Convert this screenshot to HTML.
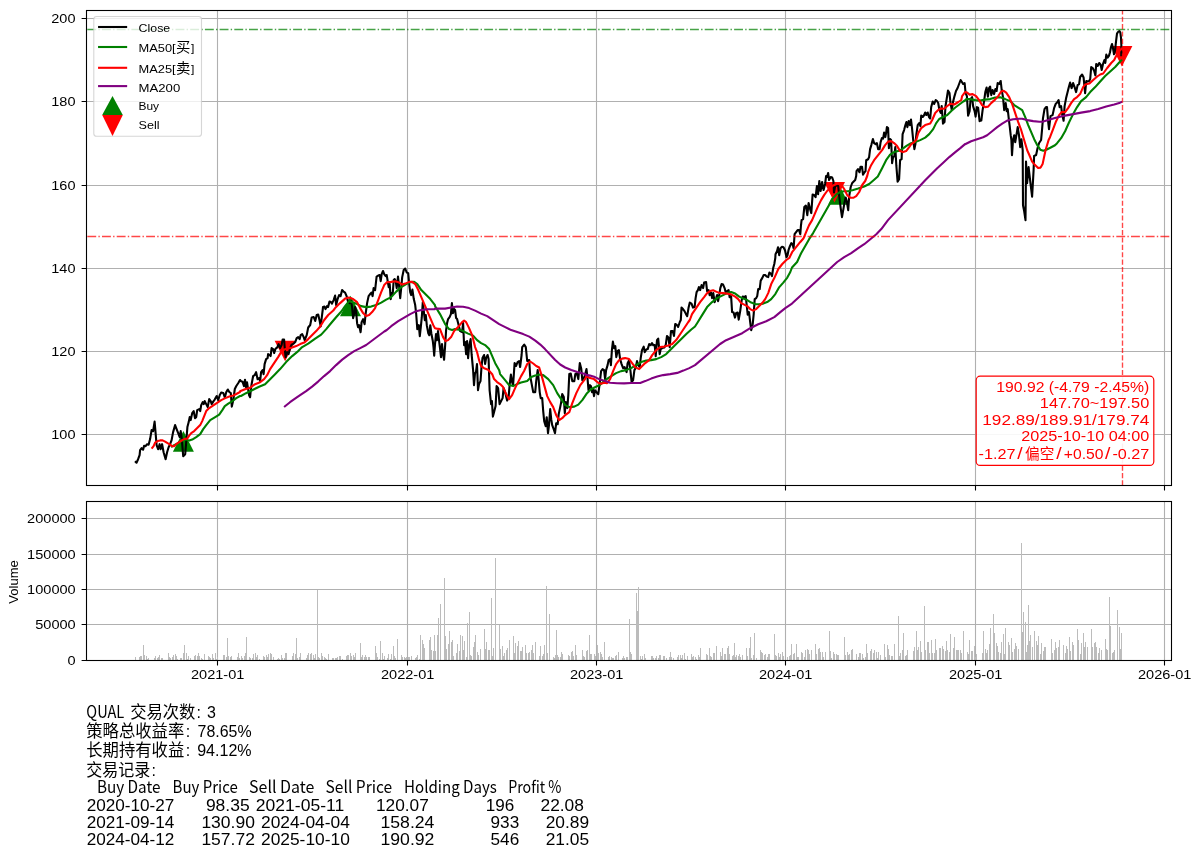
<!DOCTYPE html>
<html><head><meta charset="utf-8"><title>QUAL</title>
<style>html,body{margin:0;padding:0;background:#fff}svg{display:block}</style></head>
<body>
<svg width="1201" height="858" viewBox="0 0 1201 858" font-family='"Liberation Sans","Noto Sans CJK SC",sans-serif'>
<rect width="1201" height="858" fill="#fff"/>
<path d="M217.5 10.5 V485.5 M407.5 10.5 V485.5 M596.5 10.5 V485.5 M785.5 10.5 V485.5 M975.5 10.5 V485.5 M1164.5 10.5 V485.5 M86.5 434.5 H1171.5 M86.5 351.5 H1171.5 M86.5 268.5 H1171.5 M86.5 185.5 H1171.5 M86.5 101.5 H1171.5 M86.5 18.5 H1171.5" stroke="#b0b0b0" stroke-width="1.1" fill="none"/>
<g clip-path="url(#cm)">
<defs><clipPath id="cm"><rect x="86.5" y="10.5" width="1085.0" height="475.0"/></clipPath></defs>
<polygon points="183.4,431.1 172.9,451.7 193.9,451.7" fill="#008000"/>
<polygon points="350.5,295.7 340.0,316.3 361.0,316.3" fill="#008000"/>
<polygon points="838.7,184.1 828.2,204.7 849.2,204.7" fill="#008000"/>
<polygon points="285.1,361.3 274.6,340.7 295.6,340.7" fill="#ff0000"/>
<polygon points="834.5,202.5 824.0,181.9 845.0,181.9" fill="#ff0000"/>
<polygon points="1121.9,66.6 1111.4,46.0 1132.4,46.0" fill="#ff0000"/>
<path d="M135.0 461.2 L136.5 462.7 L138.1 459.2 L139.6 455.2 L140.1 450.2 L141.6 448.2 L143.1 449.7 L144.1 445.7 L145.6 446.2 L147.1 444.2 L148.6 444.7 L150.1 439.1 L151.6 430.1 L153.1 431.1 L154.6 421.6 L155.6 433.1 L156.6 445.2 L158.1 449.2 L159.6 444.2 L160.6 449.2 L162.1 444.2 L163.6 452.2 L165.6 459.2 L167.1 452.2 L168.6 447.2 L170.1 444.2 L171.6 440.1 L173.1 432.1 L175.1 425.1 L176.6 429.1 L178.2 433.1 L179.7 437.1 L180.7 431.1 L181.7 438.1 L183.2 456.2 L185.2 454.2 L186.2 442.2 L187.4 427.1 L188.7 422.1 L189.7 417.1 L190.7 420.1 L192.2 413.1 L193.7 411.1 L195.0 418.1 L196.2 417.1 L197.2 410.1 L199.2 409.1 L200.2 411.1 L201.2 405.1 L202.7 402.1 L203.7 404.1 L204.7 401.1 L206.2 404.1 L207.7 407.1 L209.2 399.1 L210.7 401.1 L211.7 404.1 L213.2 401.6 L214.7 399.6 L216.7 396.0 L218.2 400.1 L219.8 395.0 L221.2 392.5 L223.3 393.0 L224.8 397.5 L226.3 392.0 L227.8 389.5 L229.3 392.0 L230.8 393.0 L231.8 406.6 L233.3 400.1 L234.8 389.0 L236.3 386.0 L238.3 383.0 L240.0 380.0 L241.0 381.2 L242.5 381.7 L244.0 386.2 L245.0 379.7 L246.0 387.2 L247.0 382.2 L248.1 389.2 L249.1 395.2 L250.1 397.2 L250.8 390.2 L251.6 384.2 L253.1 376.2 L254.6 375.2 L256.1 372.2 L257.6 379.2 L259.1 378.2 L260.1 381.2 L261.1 372.2 L262.6 370.1 L263.6 374.2 L264.6 364.1 L266.1 359.1 L267.6 358.1 L268.1 354.1 L269.6 355.1 L270.6 356.1 L271.6 348.1 L273.1 349.1 L274.1 353.1 L275.6 348.6 L277.1 347.6 L278.6 344.1 L280.1 348.1 L281.6 345.1 L282.6 339.6 L284.1 339.6 L284.9 350.1 L285.6 357.1 L287.1 352.1 L288.6 354.1 L290.1 348.1 L291.6 344.6 L293.7 343.6 L295.2 342.1 L296.7 338.1 L298.2 337.1 L299.7 339.1 L300.7 335.1 L302.2 334.1 L303.7 337.1 L304.7 340.1 L306.7 335.1 L308.2 327.5 L310.2 325.0 L311.7 317.5 L313.7 317.0 L315.2 321.0 L316.7 315.0 L318.2 314.5 L319.7 321.0 L320.7 326.5 L321.7 318.0 L322.7 310.0 L323.0 307.1 L324.5 306.6 L325.5 309.1 L327.0 306.1 L328.0 307.1 L329.5 301.6 L331.0 302.1 L332.0 303.6 L333.6 300.1 L335.1 295.6 L336.2 305.1 L337.6 299.1 L339.1 295.1 L340.6 296.1 L342.1 290.1 L343.6 291.6 L345.1 292.6 L346.6 296.1 L348.1 302.1 L349.6 303.1 L351.1 301.1 L352.1 307.1 L353.1 318.2 L354.1 314.1 L355.1 307.1 L356.1 311.1 L357.1 323.2 L358.1 327.2 L359.1 325.2 L360.6 332.2 L361.6 322.2 L363.1 319.2 L364.6 324.2 L365.6 314.1 L367.1 303.1 L368.6 296.1 L370.1 294.1 L371.6 292.6 L372.6 296.1 L373.6 288.1 L375.1 290.1 L376.6 276.6 L378.2 275.6 L379.7 275.1 L380.7 281.1 L381.7 274.1 L383.0 271.0 L384.2 274.1 L385.7 276.1 L386.7 275.1 L387.7 281.1 L388.7 287.1 L389.7 284.1 L390.7 299.1 L391.7 293.1 L392.7 294.1 L393.7 280.1 L394.7 279.1 L395.7 281.1 L396.7 288.1 L398.0 276.6 L399.0 285.1 L400.2 298.1 L401.2 288.1 L402.2 277.1 L403.7 270.0 L405.2 268.5 L406.7 272.5 L408.2 273.1 L409.2 284.1 L410.2 292.1 L411.2 295.1 L412.4 289.6 L413.8 299.1 L415.2 305.1 L416.2 314.1 L417.3 329.2 L418.8 325.2 L419.8 336.2 L420.8 327.2 L421.8 317.2 L422.8 302.1 L423.8 311.1 L424.8 320.2 L425.8 315.1 L426.8 325.2 L428.3 333.2 L429.3 335.2 L430.3 325.2 L431.3 333.2 L432.8 341.0 L433.5 347.1 L434.2 355.7 L435.0 344.1 L436.0 334.1 L437.0 340.1 L438.0 331.1 L439.0 340.1 L440.0 348.1 L441.0 357.2 L442.0 344.1 L443.1 354.2 L444.1 359.7 L445.1 346.1 L446.1 330.1 L447.1 323.1 L448.1 319.1 L449.6 317.1 L450.9 314.1 L451.9 303.0 L452.9 313.1 L454.1 309.1 L455.1 310.1 L456.1 318.1 L457.1 319.1 L458.6 325.1 L460.1 331.1 L462.1 332.1 L463.1 323.1 L464.1 345.1 L465.1 342.1 L466.1 354.2 L467.1 341.1 L468.1 358.2 L469.1 346.1 L470.6 339.1 L471.6 354.2 L473.1 370.2 L474.0 385.1 L475.0 373.1 L476.0 372.0 L477.0 364.0 L478.0 390.1 L479.0 384.1 L480.5 381.1 L481.5 367.0 L482.5 358.0 L484.1 355.0 L485.1 364.0 L486.1 358.0 L487.6 355.0 L488.6 359.0 L489.6 390.1 L491.1 404.1 L491.9 401.1 L492.9 416.6 L494.1 412.1 L495.6 406.1 L496.6 386.1 L498.1 388.1 L499.6 404.1 L501.1 401.1 L502.6 398.1 L503.6 388.1 L505.1 392.1 L507.1 400.6 L508.6 397.1 L509.6 385.1 L510.9 374.6 L512.1 382.1 L513.1 385.1 L514.6 363.0 L516.1 366.0 L517.6 362.0 L519.1 361.0 L520.1 367.0 L521.6 355.0 L522.2 347.1 L524.2 344.6 L525.8 347.1 L527.2 361.0 L529.2 360.0 L530.2 376.1 L531.7 384.1 L533.2 392.1 L535.2 392.1 L536.2 381.1 L537.7 370.0 L538.7 380.1 L539.7 392.1 L540.7 398.1 L542.2 398.1 L543.2 411.1 L544.2 421.2 L545.7 426.2 L546.7 417.2 L548.0 433.2 L549.0 425.2 L550.2 409.1 L551.2 419.2 L552.2 425.2 L553.7 429.2 L555.0 433.2 L556.2 423.2 L557.7 424.2 L558.7 414.1 L560.2 407.1 L561.2 402.1 L562.2 394.1 L563.8 397.1 L564.8 413.1 L565.8 402.1 L567.3 408.1 L568.3 395.1 L569.3 374.1 L570.8 373.6 L572.3 381.1 L574.3 381.1 L575.3 374.1 L576.8 373.1 L578.3 379.1 L579.8 363.0 L581.3 369.0 L582.3 380.1 L583.8 378.1 L585.0 375.1 L586.5 369.1 L587.5 378.1 L588.5 390.2 L590.0 385.2 L591.0 386.2 L592.0 392.2 L593.0 389.2 L594.0 396.2 L595.0 390.2 L596.5 392.2 L598.3 394.2 L599.6 384.2 L601.1 371.1 L602.6 369.1 L604.1 370.1 L605.1 379.1 L606.1 370.1 L607.6 365.1 L608.6 360.1 L610.1 359.1 L610.9 365.1 L611.9 350.1 L612.9 341.6 L614.1 348.1 L615.3 346.1 L616.3 357.1 L617.6 351.1 L618.9 350.1 L620.1 359.1 L621.6 364.1 L623.1 368.1 L624.6 367.1 L626.6 372.1 L627.6 363.1 L629.1 360.1 L630.6 372.1 L631.6 382.2 L633.1 380.1 L634.4 370.1 L635.6 368.1 L637.0 361.1 L638.2 365.1 L639.7 367.1 L640.7 358.1 L642.0 350.1 L643.7 346.6 L644.7 352.1 L646.2 349.6 L647.7 349.1 L649.2 344.1 L650.7 345.1 L652.0 343.1 L653.2 345.1 L654.7 345.1 L655.7 356.1 L657.0 340.1 L658.2 338.6 L659.7 354.1 L660.7 349.1 L662.2 348.1 L664.2 347.6 L665.7 345.1 L667.0 336.0 L668.4 337.5 L669.7 347.1 L671.0 331.0 L672.7 331.0 L674.0 336.0 L675.2 324.0 L676.8 325.0 L678.1 327.0 L679.8 322.0 L680.8 320.0 L681.5 307.6 L683.0 309.1 L684.5 311.1 L686.0 314.1 L687.2 316.1 L688.5 308.1 L689.8 302.6 L691.5 303.6 L693.0 307.6 L694.6 307.1 L695.6 298.1 L696.6 292.1 L697.9 290.1 L698.9 287.1 L700.1 290.1 L701.6 285.1 L703.1 288.1 L704.1 282.6 L706.1 282.1 L707.1 291.1 L708.6 290.1 L709.6 295.1 L711.1 292.6 L712.1 298.1 L713.3 293.1 L714.6 302.1 L716.1 298.1 L717.1 295.1 L718.1 301.1 L719.1 296.1 L720.3 288.1 L721.6 284.1 L723.1 284.6 L724.6 288.1 L725.6 292.1 L727.1 291.1 L728.6 290.1 L729.6 297.1 L731.1 296.1 L732.1 312.1 L733.6 312.6 L735.0 317.6 L736.2 313.1 L737.7 312.6 L738.7 319.6 L740.2 311.1 L741.7 300.1 L742.7 296.6 L744.2 297.1 L745.7 296.1 L746.7 305.1 L747.7 314.6 L749.0 312.1 L750.2 322.2 L751.2 330.2 L752.7 324.2 L753.7 314.1 L754.7 299.1 L756.2 298.1 L757.2 296.1 L758.2 289.1 L759.7 289.1 L760.7 280.6 L762.2 278.1 L763.7 275.0 L765.2 275.0 L766.7 276.6 L768.2 277.1 L769.4 272.5 L770.8 273.5 L772.0 276.1 L773.2 268.0 L774.3 264.0 L775.3 258.0 L775.5 254.2 L777.0 251.2 L778.0 247.2 L779.2 255.2 L780.5 248.2 L782.0 246.7 L783.5 247.2 L785.0 250.2 L786.5 257.2 L787.5 255.2 L788.5 250.2 L789.9 246.2 L791.3 243.2 L792.6 244.2 L793.6 248.2 L794.6 234.2 L796.1 232.1 L797.6 230.1 L799.1 230.1 L800.3 234.2 L800.9 226.1 L801.6 220.1 L803.1 219.1 L804.3 207.1 L805.9 205.6 L807.3 215.1 L808.6 203.1 L810.1 209.1 L811.3 213.1 L812.6 194.6 L814.1 195.1 L815.6 197.1 L816.9 186.0 L818.1 194.1 L819.3 181.0 L820.6 191.0 L822.1 182.0 L823.6 190.0 L825.1 184.0 L826.1 176.0 L827.1 177.0 L828.1 173.0 L829.1 180.0 L830.7 177.0 L832.2 177.5 L833.4 181.0 L834.0 192.5 L835.2 186.0 L836.7 185.5 L838.2 186.0 L839.2 196.1 L840.7 208.1 L842.0 217.1 L843.2 210.1 L844.4 203.1 L845.7 197.6 L846.7 201.1 L848.2 210.1 L849.2 196.1 L850.7 187.0 L852.2 183.0 L853.7 181.5 L855.2 180.0 L856.2 176.0 L856.5 171.2 L858.0 169.2 L859.5 172.2 L860.5 166.7 L862.0 166.7 L863.0 174.7 L864.5 172.2 L865.5 171.2 L866.2 160.2 L868.1 159.2 L869.1 157.1 L870.1 149.1 L871.3 145.1 L872.9 139.1 L874.1 143.1 L875.6 144.1 L876.9 143.1 L878.1 149.1 L879.6 149.1 L880.6 142.1 L881.9 138.1 L883.1 138.6 L884.1 132.6 L885.3 137.1 L886.1 133.1 L886.9 127.1 L888.1 128.1 L888.9 148.1 L890.1 139.1 L891.1 140.1 L892.1 163.2 L893.1 157.1 L894.3 156.1 L895.3 147.1 L896.3 165.2 L897.6 181.7 L899.1 179.2 L900.1 160.2 L901.6 159.2 L902.6 134.1 L904.1 130.1 L905.4 125.1 L906.4 122.1 L907.4 127.1 L908.7 121.0 L910.0 125.1 L911.0 119.5 L912.0 128.1 L913.2 140.1 L914.4 149.1 L915.4 144.1 L916.4 134.1 L917.7 125.1 L919.2 123.1 L920.4 126.1 L921.2 115.5 L922.7 117.0 L924.2 115.0 L925.2 112.5 L926.4 115.0 L927.7 112.5 L929.0 117.0 L930.2 118.5 L931.2 107.0 L932.7 101.5 L934.2 104.0 L935.7 100.0 L937.0 101.0 L938.2 103.0 L939.2 109.0 L940.7 113.0 L941.7 106.0 L943.0 123.6 L944.5 122.1 L945.5 106.0 L946.5 100.0 L948.0 90.5 L949.5 93.1 L950.5 103.1 L951.8 110.1 L953.0 102.1 L954.5 96.1 L956.0 91.0 L957.6 88.0 L959.1 84.0 L960.6 80.0 L961.9 82.0 L963.1 84.0 L964.6 83.0 L965.6 93.1 L966.9 96.1 L968.1 115.6 L969.6 111.1 L970.6 99.1 L972.1 97.1 L973.1 106.1 L974.6 111.1 L975.6 116.6 L976.9 107.1 L978.1 107.6 L979.6 121.1 L981.3 120.6 L982.6 110.1 L984.1 101.1 L985.3 92.1 L986.6 87.5 L987.9 96.6 L989.1 88.0 L990.1 86.5 L991.3 95.1 L992.6 90.0 L994.1 94.1 L995.4 89.0 L996.6 91.0 L997.7 83.0 L999.2 84.0 L1000.7 81.0 L1001.7 90.0 L1003.0 97.1 L1004.2 110.1 L1005.7 103.1 L1006.7 111.1 L1007.7 109.1 L1008.7 118.1 L1009.7 126.1 L1010.7 135.2 L1011.4 140.2 L1012.0 155.2 L1013.0 140.2 L1014.2 135.2 L1015.2 142.2 L1016.4 135.2 L1017.7 127.1 L1019.0 135.2 L1020.2 147.2 L1021.4 139.2 L1022.7 150.2 L1023.0 205.2 L1024.0 210.2 L1025.5 220.2 L1025.8 190.1 L1026.0 161.6 L1027.1 183.1 L1028.6 167.1 L1030.1 180.1 L1032.1 196.6 L1033.6 170.1 L1034.1 156.0 L1036.1 155.0 L1037.6 148.0 L1039.1 143.0 L1041.1 140.0 L1042.0 130.2 L1043.0 118.2 L1044.5 109.1 L1046.0 107.1 L1047.0 107.1 L1048.0 120.2 L1049.0 129.2 L1050.5 116.1 L1052.6 115.1 L1054.1 108.1 L1055.6 104.1 L1057.1 102.6 L1058.6 100.1 L1059.6 107.1 L1061.1 106.1 L1062.1 114.1 L1063.6 120.7 L1064.6 106.1 L1066.1 98.1 L1067.1 94.1 L1068.6 88.1 L1070.1 82.6 L1071.6 88.1 L1073.1 83.1 L1074.6 87.1 L1076.1 92.1 L1077.6 85.1 L1079.1 84.1 L1080.1 77.0 L1082.1 74.5 L1083.6 77.5 L1085.1 93.1 L1086.3 81.0 L1087.6 81.5 L1089.2 81.0 L1090.2 79.0 L1091.2 67.0 L1092.7 68.0 L1094.2 71.0 L1095.4 75.5 L1096.2 64.0 L1097.7 66.0 L1099.2 63.0 L1100.7 65.0 L1101.7 70.0 L1103.0 64.0 L1104.4 60.0 L1105.3 63.0 L1106.3 54.6 L1107.6 57.6 L1109.0 55.6 L1110.0 52.3 L1111.0 47.0 L1112.0 44.0 L1113.0 48.3 L1114.0 54.3 L1115.0 51.0 L1116.0 41.6 L1117.0 33.6 L1118.0 32.0 L1119.3 31.0 L1120.3 32.3 L1121.0 37.6 L1121.4 46.3 L1121.3 56.3" stroke="#000" stroke-width="2.1" fill="none" stroke-linejoin="round"/>
<path d="M171.1 447.2 L174.1 445.2 L178.2 443.2 L182.2 440.6 L186.2 439.4 L189.2 440.6 L192.2 439.6 L196.2 437.1 L200.2 434.1 L203.2 429.1 L206.2 425.1 L210.2 420.1 L215.2 417.1 L219.2 414.6 L222.3 410.1 L224.8 406.1 L228.3 403.6 L232.3 401.1 L236.3 398.1 L240.0 396.0 L241.0 396.0 L246.0 393.2 L252.1 390.2 L259.1 386.7 L265.1 384.2 L269.1 380.2 L274.1 375.2 L280.1 369.1 L286.1 362.1 L292.2 356.1 L298.2 351.1 L302.2 347.1 L308.2 343.6 L315.2 338.6 L321.2 334.6 L326.2 329.1 L331.2 323.0 L336.3 317.0 L341.3 311.5 L345.1 306.1 L349.1 301.1 L353.1 302.6 L357.1 304.1 L361.1 306.1 L366.1 307.1 L371.1 306.6 L376.1 305.1 L381.2 302.6 L386.2 299.6 L391.2 297.1 L396.2 291.6 L401.2 287.1 L406.2 284.1 L410.2 282.1 L414.2 281.9 L417.3 284.1 L421.3 290.1 L425.3 294.1 L430.3 299.1 L435.0 305.1 L435.0 306.0 L440.0 314.1 L445.1 324.1 L449.1 329.1 L452.1 330.1 L455.1 329.1 L459.1 329.6 L463.1 331.1 L468.1 333.6 L473.1 335.6 L477.1 340.1 L481.1 343.1 L485.1 345.1 L489.2 349.1 L492.2 356.2 L495.2 363.2 L499.2 370.2 L500.1 374.1 L505.1 380.1 L509.1 385.1 L513.1 386.1 L517.1 384.1 L521.1 382.6 L527.2 381.1 L531.2 377.1 L535.2 375.6 L539.2 374.6 L543.2 375.1 L548.2 379.1 L553.2 385.1 L557.2 393.1 L561.2 399.1 L565.2 405.1 L569.3 407.1 L574.3 406.6 L578.3 404.6 L582.3 400.1 L585.0 396.1 L587.0 393.2 L591.0 389.2 L595.0 387.2 L600.1 384.7 L604.1 381.1 L608.1 378.1 L612.1 375.6 L616.1 373.1 L621.1 371.1 L626.1 370.1 L631.1 368.1 L636.1 365.1 L641.2 362.1 L646.2 360.6 L651.2 360.1 L656.2 359.1 L661.2 357.1 L666.2 354.1 L671.2 349.1 L676.2 344.1 L681.3 339.1 L686.3 334.0 L691.3 329.5 L695.0 326.5 L697.1 323.2 L702.1 315.1 L707.1 307.1 L712.1 302.1 L717.1 298.1 L722.1 295.6 L727.1 293.1 L731.1 292.1 L735.2 293.6 L739.2 296.6 L743.2 298.6 L747.2 300.1 L751.2 302.6 L755.2 304.1 L759.2 304.3 L763.2 303.6 L767.2 302.1 L771.2 299.1 L775.3 294.1 L779.3 287.1 L783.3 282.6 L787.3 277.6 L790.3 272.0 L792.0 267.5 L797.1 262.0 L801.1 253.2 L805.1 246.2 L809.1 239.2 L813.1 233.1 L817.1 226.1 L821.1 219.1 L825.1 212.1 L829.1 205.1 L832.2 199.1 L836.2 194.6 L840.2 191.8 L844.2 191.2 L848.2 191.2 L853.2 190.0 L858.2 188.5 L864.2 186.5 L869.2 184.0 L873.3 180.5 L877.8 176.5 L882.1 168.2 L886.1 160.2 L890.1 154.6 L894.1 152.1 L898.1 151.1 L902.1 149.1 L906.1 146.1 L910.2 143.6 L915.2 142.1 L920.2 140.1 L925.2 137.6 L929.2 134.1 L933.2 129.1 L936.2 123.1 L939.2 119.0 L943.2 117.0 L947.3 115.0 L951.3 111.0 L955.3 107.5 L959.3 104.5 L963.3 101.5 L965.0 100.5 L966.1 99.1 L970.1 99.1 L975.1 100.1 L980.1 100.6 L985.1 99.6 L990.1 99.1 L995.1 97.6 L1000.2 97.3 L1005.2 99.1 L1010.2 101.1 L1014.2 105.1 L1018.2 107.6 L1022.2 110.1 L1025.2 117.1 L1028.2 125.1 L1031.2 132.2 L1034.2 139.2 L1037.3 145.2 L1040.3 149.7 L1043.3 150.7 L1046.3 149.7 L1050.3 147.7 L1055.0 145.2 L1057.1 143.2 L1061.1 138.2 L1065.1 131.2 L1069.1 122.2 L1073.1 114.1 L1077.1 107.1 L1081.1 101.1 L1086.1 97.1 L1090.2 92.1 L1095.2 87.1 L1100.2 81.5 L1105.2 76.0 L1110.2 71.5 L1115.2 67.0 L1119.2 62.5 L1121.7 60.0 L1122.0 59.6" stroke="#008000" stroke-width="2.1" fill="none" stroke-linejoin="round"/>
<path d="M151.6 448.7 L153.6 446.2 L155.1 442.7 L157.6 441.1 L160.1 440.4 L162.6 440.4 L165.1 441.6 L167.6 443.2 L170.1 444.7 L172.1 446.2 L174.1 446.2 L176.1 444.2 L179.2 442.2 L182.2 440.1 L184.7 438.9 L187.2 438.6 L189.2 435.6 L191.2 433.1 L194.2 431.1 L197.2 428.1 L200.2 425.1 L202.2 421.1 L204.2 416.1 L206.2 411.1 L209.2 408.1 L212.2 406.1 L215.2 404.1 L218.2 402.1 L221.2 400.1 L225.3 398.1 L229.3 396.5 L233.3 395.5 L236.3 394.0 L240.0 392.0 L240.0 391.2 L245.0 389.2 L250.1 387.7 L255.1 384.2 L260.1 382.2 L264.1 379.2 L267.1 375.2 L270.1 369.1 L274.1 363.1 L278.1 357.1 L281.1 352.1 L284.1 349.6 L288.1 348.6 L292.2 347.6 L296.2 346.1 L300.2 344.1 L304.2 342.6 L308.2 339.1 L312.2 335.1 L316.2 331.1 L320.2 326.5 L324.2 320.0 L328.2 315.0 L333.3 310.5 L335.1 308.1 L340.1 303.1 L345.1 298.6 L349.1 297.6 L353.1 299.1 L357.1 302.1 L360.1 308.1 L363.1 313.1 L366.1 316.1 L369.1 315.1 L372.1 312.1 L375.1 308.1 L378.2 300.1 L381.2 292.1 L384.2 285.1 L387.2 282.1 L391.2 281.9 L395.2 281.3 L399.2 282.6 L402.2 284.6 L405.2 283.6 L409.2 281.9 L412.2 281.9 L415.2 284.1 L418.3 290.1 L421.3 297.1 L424.3 304.1 L427.3 311.1 L430.3 318.2 L433.3 325.2 L435.0 328.2 L437.0 328.6 L440.0 329.1 L443.1 337.1 L445.6 341.1 L448.1 340.1 L451.1 337.1 L454.1 331.1 L458.1 327.1 L462.1 322.1 L464.1 320.6 L466.1 322.1 L469.1 328.1 L472.1 335.1 L475.1 347.1 L477.1 352.2 L479.1 360.2 L481.1 366.2 L484.1 368.2 L488.2 369.7 L492.2 374.2 L494.1 379.1 L497.1 382.1 L500.1 384.1 L503.1 387.1 L506.1 394.1 L509.1 399.1 L512.1 395.1 L515.1 388.1 L518.1 382.1 L521.1 376.1 L524.1 371.0 L527.2 364.0 L530.2 361.5 L533.2 363.5 L536.2 366.0 L539.2 367.5 L541.2 374.1 L544.2 385.1 L547.2 396.1 L550.2 402.1 L553.2 407.1 L556.2 415.1 L559.2 420.2 L562.2 418.2 L565.2 415.1 L569.3 412.1 L572.3 403.1 L576.3 393.1 L580.3 385.1 L585.0 379.1 L586.5 376.1 L590.0 378.1 L594.0 379.1 L598.1 382.7 L601.1 383.7 L604.1 382.7 L607.1 383.2 L610.1 379.1 L613.1 371.1 L616.1 364.1 L619.1 360.1 L622.1 358.6 L625.1 358.1 L629.1 359.1 L632.1 363.1 L635.1 367.1 L639.2 369.1 L642.2 366.1 L645.2 363.1 L649.2 360.1 L652.2 355.1 L656.2 350.1 L660.2 347.1 L664.2 346.6 L668.2 345.6 L672.2 344.1 L676.2 340.1 L680.3 334.0 L684.3 328.0 L688.3 322.0 L689.8 320.0 L692.0 314.1 L696.1 308.1 L700.1 302.1 L704.1 297.1 L707.1 293.1 L710.1 291.1 L713.1 290.3 L716.1 291.6 L719.1 292.9 L723.1 293.1 L727.1 293.6 L731.1 294.3 L735.2 296.6 L738.2 299.1 L741.2 303.1 L744.2 304.6 L747.2 306.1 L750.2 309.1 L753.2 310.6 L756.2 309.1 L759.2 306.1 L762.2 303.1 L765.2 299.1 L768.2 293.1 L771.2 284.1 L774.3 278.1 L778.3 269.0 L782.3 264.0 L786.3 260.0 L789.3 258.0 L792.1 252.2 L796.1 247.2 L800.1 242.2 L803.6 238.2 L806.1 232.1 L809.1 225.1 L812.1 220.1 L815.1 213.1 L818.1 206.1 L821.1 200.1 L824.1 195.1 L827.1 191.0 L830.2 188.0 L833.2 185.5 L838.2 183.2 L841.2 184.5 L844.2 189.0 L847.2 195.1 L850.2 197.6 L853.2 197.8 L856.2 196.1 L859.2 192.0 L862.2 185.0 L865.2 181.0 L867.2 176.0 L868.1 172.2 L871.1 165.2 L874.1 160.2 L878.1 155.1 L882.1 150.1 L885.1 145.1 L888.1 141.6 L891.1 141.1 L894.1 143.1 L897.1 146.1 L900.1 151.1 L903.1 152.1 L906.1 151.1 L909.2 147.1 L911.2 144.1 L914.2 142.1 L916.2 140.1 L918.2 133.1 L921.2 128.1 L925.2 125.1 L930.2 123.6 L932.2 120.0 L935.2 113.0 L938.2 110.0 L941.2 108.5 L944.2 108.8 L947.3 106.0 L950.3 103.8 L954.3 104.5 L958.3 102.0 L961.3 100.0 L962.1 96.1 L965.1 92.1 L967.1 92.6 L969.6 94.6 L972.6 94.1 L976.1 96.1 L979.1 100.1 L982.1 105.1 L985.1 107.1 L988.1 106.6 L991.1 103.1 L995.1 99.6 L998.2 96.1 L1001.2 91.5 L1003.7 90.8 L1006.2 92.6 L1009.2 97.1 L1012.2 104.1 L1015.2 113.1 L1018.2 122.1 L1021.2 130.2 L1024.2 140.2 L1027.2 150.2 L1029.2 154.7 L1032.1 161.6 L1035.1 165.1 L1038.1 167.9 L1040.6 167.6 L1042.6 164.1 L1044.1 157.0 L1045.6 150.0 L1047.1 145.0 L1048.6 140.0 L1050.0 137.2 L1053.1 129.2 L1056.1 121.2 L1059.1 115.1 L1061.6 112.1 L1065.1 112.1 L1068.1 108.1 L1071.1 103.1 L1074.1 99.1 L1077.1 97.1 L1080.1 94.1 L1083.1 87.1 L1085.1 84.6 L1089.2 83.6 L1093.2 80.0 L1097.2 76.5 L1100.2 74.5 L1103.2 73.5 L1107.2 68.0 L1111.2 63.0 L1114.2 60.0 L1116.0 56.3 L1119.3 51.0 L1122.3 48.1" stroke="#ff0000" stroke-width="2.1" fill="none" stroke-linejoin="round"/>
<path d="M284.1 407.0 L290.0 402.2 L295.0 398.7 L300.1 395.2 L306.1 391.1 L312.1 386.6 L318.1 381.6 L324.1 376.1 L330.1 371.1 L336.1 365.1 L342.2 359.6 L348.2 355.1 L354.2 351.1 L360.2 348.1 L366.2 345.0 L372.2 340.5 L378.2 336.0 L384.3 331.5 L386.8 330.0 L391.2 326.2 L398.2 321.2 L404.2 317.7 L410.2 314.1 L415.2 311.6 L421.3 310.1 L427.3 309.3 L435.0 309.1 L435.0 308.6 L445.1 308.6 L451.1 307.5 L457.1 306.5 L463.1 306.7 L469.1 308.1 L475.1 310.6 L481.1 313.6 L487.2 316.1 L493.2 320.1 L499.2 324.1 L505.2 327.1 L511.2 330.1 L517.2 332.1 L523.2 334.1 L529.3 336.6 L535.3 340.6 L540.3 344.6 L545.0 349.1 L555.2 360.0 L560.2 364.5 L565.2 367.5 L571.3 370.0 L577.3 372.0 L585.0 374.1 L585.0 374.6 L590.0 375.6 L595.0 377.1 L600.1 379.6 L605.1 381.1 L610.1 382.7 L617.1 383.2 L624.1 383.4 L631.1 383.0 L640.2 383.0 L645.2 381.1 L651.2 378.6 L657.2 376.6 L663.2 375.1 L670.2 374.1 L677.3 372.9 L683.3 370.6 L689.3 368.1 L695.0 365.1 L720.1 344.0 L726.1 340.2 L734.2 336.7 L742.2 333.2 L750.2 328.2 L758.2 324.2 L766.2 321.2 L774.3 317.1 L780.3 312.1 L785.3 308.1 L792.0 303.6 L837.2 262.0 L844.2 257.2 L851.2 253.2 L858.2 248.2 L864.2 244.2 L870.3 239.2 L876.3 234.2 L881.3 229.1 L888.0 220.1 L925.2 180.2 L931.2 174.2 L937.2 168.2 L943.2 162.7 L949.3 157.1 L955.3 152.1 L960.3 148.1 L965.0 144.1 L965.1 144.2 L971.1 141.2 L977.1 139.2 L983.1 137.2 L987.1 135.2 L992.1 131.2 L997.2 127.1 L1002.2 123.6 L1007.2 120.6 L1013.2 119.3 L1019.2 118.8 L1022.2 118.8 L1027.2 120.1 L1033.2 121.1 L1039.3 121.8 L1043.3 121.6 L1048.3 120.1 L1055.0 118.1 L1065.1 115.6 L1073.1 114.1 L1081.1 112.6 L1090.2 111.1 L1098.2 109.1 L1106.2 106.6 L1114.2 104.6 L1119.2 103.1 L1122.2 101.6" stroke="#800080" stroke-width="2.1" fill="none" stroke-linejoin="round"/>
<path d="M87.3 29.5 H1171.5" stroke="#008000" stroke-opacity="0.72" stroke-width="1.39" stroke-dasharray="8.9 2.2 1.4 2.2" fill="none"/>
<path d="M87.3 236.5 H1171.5" stroke="#ff0000" stroke-opacity="0.72" stroke-width="1.39" stroke-dasharray="8.9 2.2 1.4 2.2" fill="none"/>
<path d="M1122.5 485.5 V10.5" stroke="#ff0000" stroke-opacity="0.72" stroke-width="1.39" stroke-dasharray="5.14 2.22" fill="none"/>
</g>
<rect x="86.5" y="10.5" width="1085.0" height="475.0" fill="none" stroke="#000" stroke-width="1.1"/>
<path d="M217.5 485.5 v4.9 M407.5 485.5 v4.9 M596.5 485.5 v4.9 M785.5 485.5 v4.9 M975.5 485.5 v4.9 M1164.5 485.5 v4.9 M86.5 434.5 h-4.9 M86.5 351.5 h-4.9 M86.5 268.5 h-4.9 M86.5 185.5 h-4.9 M86.5 101.5 h-4.9 M86.5 18.5 h-4.9" stroke="#000" stroke-width="1.1" fill="none"/>
<text x="75.5" y="439.0" font-size="12.4" text-anchor="end" fill="#000" textLength="24.2" lengthAdjust="spacingAndGlyphs">100</text>
<text x="75.5" y="356.0" font-size="12.4" text-anchor="end" fill="#000" textLength="24.2" lengthAdjust="spacingAndGlyphs">120</text>
<text x="75.5" y="273.0" font-size="12.4" text-anchor="end" fill="#000" textLength="24.2" lengthAdjust="spacingAndGlyphs">140</text>
<text x="75.5" y="190.0" font-size="12.4" text-anchor="end" fill="#000" textLength="24.2" lengthAdjust="spacingAndGlyphs">160</text>
<text x="75.5" y="106.0" font-size="12.4" text-anchor="end" fill="#000" textLength="24.2" lengthAdjust="spacingAndGlyphs">180</text>
<text x="75.5" y="23.0" font-size="12.4" text-anchor="end" fill="#000" textLength="24.2" lengthAdjust="spacingAndGlyphs">200</text>
<rect x="93.8" y="16.5" width="107.7" height="119.8" rx="2.8" fill="#fff" fill-opacity="0.8" stroke="#ccc" stroke-opacity="0.8" stroke-width="1.1"/>
<path d="M99.1 27.0 H126.1" stroke="#000" stroke-width="2.1" stroke-linecap="square"/>
<path d="M99.1 47.0 H126.1" stroke="#008000" stroke-width="2.1" stroke-linecap="square"/>
<path d="M99.1 67.8 H126.1" stroke="#ff0000" stroke-width="2.1" stroke-linecap="square"/>
<path d="M99.1 86.1 H126.1" stroke="#800080" stroke-width="2.1" stroke-linecap="square"/>
<polygon points="112.5,96.0 102.2,115.1 122.8,115.1" fill="#008000"/>
<polygon points="112.5,136.0 102.2,115.1 122.8,115.1" fill="#ff0000"/>
<text x="138.6" y="31.6" font-size="11.6" text-anchor="start" fill="#000" textLength="31.6" lengthAdjust="spacingAndGlyphs">Close</text>
<text x="138.6" y="52.1" font-size="11.6" text-anchor="start" fill="#000" textLength="37.1" lengthAdjust="spacingAndGlyphs">MA50[</text>
<text x="176.0" y="52.3" font-size="14.2" text-anchor="start" fill="#000" textLength="14.4" lengthAdjust="spacingAndGlyphs">买</text>
<text x="190.9" y="52.1" font-size="11.6" text-anchor="start" fill="#000" textLength="3.4" lengthAdjust="spacingAndGlyphs">]</text>
<text x="138.6" y="72.7" font-size="11.6" text-anchor="start" fill="#000" textLength="37.1" lengthAdjust="spacingAndGlyphs">MA25[</text>
<text x="176.0" y="72.9" font-size="14.2" text-anchor="start" fill="#000" textLength="14.4" lengthAdjust="spacingAndGlyphs">卖</text>
<text x="190.9" y="72.7" font-size="11.6" text-anchor="start" fill="#000" textLength="3.4" lengthAdjust="spacingAndGlyphs">]</text>
<text x="138.6" y="91.7" font-size="11.6" text-anchor="start" fill="#000" textLength="41.6" lengthAdjust="spacingAndGlyphs">MA200</text>
<text x="138.5" y="109.7" font-size="11.6" text-anchor="start" fill="#000" textLength="20.6" lengthAdjust="spacingAndGlyphs">Buy</text>
<text x="138.5" y="129.0" font-size="11.6" text-anchor="start" fill="#000" textLength="21.0" lengthAdjust="spacingAndGlyphs">Sell</text>
<rect x="976.2" y="376.2" width="177.6" height="89.2" rx="4" fill="#fff" fill-opacity="0.9" stroke="#ff0000" stroke-width="1.2"/>
<text x="1149.3" y="391.7" font-size="15" text-anchor="end" fill="#ff0000" textLength="153.0" lengthAdjust="spacingAndGlyphs">190.92 (-4.79 -2.45%)</text>
<text x="1149.3" y="408.4" font-size="15" text-anchor="end" fill="#ff0000" textLength="109.5" lengthAdjust="spacingAndGlyphs">147.70~197.50</text>
<text x="1149.3" y="424.9" font-size="15" text-anchor="end" fill="#ff0000" textLength="167.0" lengthAdjust="spacingAndGlyphs">192.89/189.91/179.74</text>
<text x="1149.3" y="441.1" font-size="15" text-anchor="end" fill="#ff0000" textLength="128.0" lengthAdjust="spacingAndGlyphs">2025-10-10 04:00</text>
<text x="978.6" y="458.6" font-size="15" text-anchor="start" fill="#ff0000" textLength="37.0" lengthAdjust="spacingAndGlyphs">-1.27</text>
<text x="1063.8" y="458.6" font-size="15" text-anchor="start" fill="#ff0000" textLength="39.7" lengthAdjust="spacingAndGlyphs">+0.50</text>
<text x="1112.4" y="458.6" font-size="15" text-anchor="start" fill="#ff0000" textLength="36.9" lengthAdjust="spacingAndGlyphs">-0.27</text>
<text x="1019.9" y="458.6" font-size="16.5" text-anchor="middle" fill="#ff0000" textLength="5.4" lengthAdjust="spacingAndGlyphs">/</text>
<text x="1058.9" y="458.6" font-size="16.5" text-anchor="middle" fill="#ff0000" textLength="5.4" lengthAdjust="spacingAndGlyphs">/</text>
<text x="1107.8" y="458.6" font-size="16.5" text-anchor="middle" fill="#ff0000" textLength="5.4" lengthAdjust="spacingAndGlyphs">/</text>
<text x="1025.0" y="458.9" font-size="14.6" text-anchor="start" fill="#ff0000" textLength="29.3" lengthAdjust="spacingAndGlyphs">偏空</text>
<path d="M217.5 501.5 V660.5 M407.5 501.5 V660.5 M596.5 501.5 V660.5 M785.5 501.5 V660.5 M975.5 501.5 V660.5 M1164.5 501.5 V660.5 M86.5 660.5 H1171.5 M86.5 624.5 H1171.5 M86.5 589.5 H1171.5 M86.5 554.5 H1171.5 M86.5 518.5 H1171.5" stroke="#b0b0b0" stroke-width="1.1" fill="none"/>
<path d="M135 660v-3h1v3z M139 660v-3h1v3z M140 660v-4h1v4z M141 660v-4h1v4z M143 660v-15h1v15z M144 660v-5h1v5z M146 660v-4h1v4z M147 660v-1h1v1z M148 660v-2h1v2z M154 660v-2h1v2z M155 660v-4h1v4z M157 660v-2h1v2z M158 660v-3h1v3z M159 660v-5h1v5z M161 660v-2h1v2z M162 660v-2h1v2z M168 660v-7h1v7z M169 660v-3h1v3z M170 660v-2h1v2z M172 660v-3h1v3z M173 660v-5h1v5z M175 660v-6h1v6z M176 660v-4h1v4z M177 660v-1h1v1z M180 660v-2h1v2z M181 660v-2h1v2z M183 660v-7h1v7z M184 660v-15h1v15z M186 660v-7h1v7z M187 660v-1h1v1z M188 660v-4h1v4z M190 660v-2h1v2z M194 660v-4h1v4z M195 660v-5h1v5z M197 660v-4h1v4z M198 660v-7h1v7z M199 660v-4h1v4z M201 660v-2h1v2z M202 660v-1h1v1z M204 660v-6h1v6z M208 660v-4h1v4z M209 660v-3h1v3z M210 660v-2h1v2z M212 660v-6h1v6z M213 660v-2h1v2z M215 660v-7h1v7z M216 660v-1h1v1z M217 660v-3h1v3z M223 660v-5h1v5z M224 660v-5h1v5z M226 660v-3h1v3z M227 660v-22h1v22z M228 660v-4h1v4z M230 660v-3h1v3z M231 660v-4h1v4z M237 660v-3h1v3z M238 660v-7h1v7z M239 660v-2h1v2z M241 660v-4h1v4z M242 660v-2h1v2z M244 660v-4h1v4z M245 660v-7h1v7z M246 660v-23h1v23z M249 660v-3h1v3z M250 660v-2h1v2z M252 660v-2h1v2z M253 660v-6h1v6z M255 660v-7h1v7z M256 660v-3h1v3z M257 660v-5h1v5z M259 660v-1h1v1z M263 660v-4h1v4z M264 660v-3h1v3z M266 660v-5h1v5z M267 660v-3h1v3z M268 660v-6h1v6z M270 660v-7h1v7z M271 660v-6h1v6z M273 660v-3h1v3z M277 660v-1h1v1z M278 660v-2h1v2z M279 660v-1h1v1z M281 660v-5h1v5z M282 660v-2h1v2z M284 660v-2h1v2z M285 660v-7h1v7z M286 660v-7h1v7z M292 660v-4h1v4z M293 660v-7h1v7z M295 660v-6h1v6z M296 660v-22h1v22z M297 660v-2h1v2z M299 660v-3h1v3z M300 660v-7h1v7z M306 660v-2h1v2z M307 660v-5h1v5z M308 660v-7h1v7z M310 660v-6h1v6z M311 660v-7h1v7z M313 660v-5h1v5z M314 660v-2h1v2z M315 660v-6h1v6z M317 660v-70h1v70z M318 660v-3h1v3z M319 660v-2h1v2z M321 660v-7h1v7z M322 660v-4h1v4z M324 660v-3h1v3z M325 660v-2h1v2z M326 660v-1h1v1z M328 660v-6h1v6z M332 660v-2h1v2z M333 660v-2h1v2z M335 660v-2h1v2z M336 660v-2h1v2z M337 660v-3h1v3z M339 660v-4h1v4z M340 660v-4h1v4z M342 660v-1h1v1z M346 660v-4h1v4z M347 660v-5h1v5z M348 660v-5h1v5z M350 660v-7h1v7z M351 660v-4h1v4z M353 660v-5h1v5z M354 660v-3h1v3z M355 660v-7h1v7z M360 660v-17h1v17z M361 660v-3h1v3z M362 660v-5h1v5z M364 660v-3h1v3z M365 660v-5h1v5z M366 660v-3h1v3z M368 660v-3h1v3z M369 660v-3h1v3z M375 660v-14h1v14z M376 660v-7h1v7z M377 660v-3h1v3z M379 660v-1h1v1z M380 660v-19h1v19z M382 660v-7h1v7z M383 660v-1h1v1z M384 660v-4h1v4z M387 660v-2h1v2z M388 660v-6h1v6z M390 660v-1h1v1z M391 660v-6h1v6z M393 660v-14h1v14z M394 660v-4h1v4z M395 660v-2h1v2z M397 660v-21h1v21z M401 660v-5h1v5z M402 660v-3h1v3z M404 660v-3h1v3z M405 660v-2h1v2z M406 660v-3h1v3z M408 660v-3h1v3z M409 660v-3h1v3z M411 660v-4h1v4z M415 660v-2h1v2z M416 660v-3h1v3z M417 660v-5h1v5z M419 660v-1h1v1z M420 660v-25h1v25z M422 660v-20h1v20z M423 660v-16h1v16z M424 660v-12h1v12z M429 660v-20h1v20z M430 660v-23h1v23z M431 660v-10h1v10z M433 660v-9h1v9z M434 660v-25h1v25z M435 660v-9h1v9z M437 660v-25h1v25z M438 660v-42h1v42z M440 660v-56h1v56z M444 660v-82h1v82z M445 660v-24h1v24z M446 660v-11h1v11z M448 660v-16h1v16z M449 660v-29h1v29z M451 660v-18h1v18z M452 660v-20h1v20z M453 660v-4h1v4z M456 660v-7h1v7z M457 660v-16h1v16z M459 660v-9h1v9z M460 660v-25h1v25z M462 660v-24h1v24z M463 660v-10h1v10z M464 660v-19h1v19z M466 660v-3h1v3z M467 660v-37h1v37z M469 660v-48h1v48z M470 660v-5h1v5z M471 660v-4h1v4z M473 660v-13h1v13z M474 660v-18h1v18z M475 660v-25h1v25z M477 660v-8h1v8z M478 660v-5h1v5z M480 660v-11h1v11z M484 660v-31h1v31z M485 660v-11h1v11z M486 660v-18h1v18z M488 660v-10h1v10z M489 660v-10h1v10z M491 660v-62h1v62z M492 660v-4h1v4z M493 660v-12h1v12z M495 660v-102h1v102z M499 660v-35h1v35z M500 660v-11h1v11z M502 660v-14h1v14z M503 660v-4h1v4z M504 660v-7h1v7z M506 660v-10h1v10z M507 660v-12h1v12z M509 660v-20h1v20z M513 660v-24h1v24z M514 660v-7h1v7z M515 660v-17h1v17z M517 660v-14h1v14z M518 660v-19h1v19z M520 660v-9h1v9z M521 660v-9h1v9z M522 660v-13h1v13z M525 660v-15h1v15z M526 660v-7h1v7z M528 660v-7h1v7z M529 660v-8h1v8z M531 660v-10h1v10z M532 660v-15h1v15z M533 660v-7h1v7z M535 660v-18h1v18z M539 660v-4h1v4z M540 660v-14h1v14z M542 660v-4h1v4z M543 660v-6h1v6z M544 660v-15h1v15z M546 660v-74h1v74z M547 660v-7h1v7z M549 660v-46h1v46z M553 660v-3h1v3z M554 660v-2h1v2z M555 660v-5h1v5z M556 660v-30h1v30z M557 660v-5h1v5z M558 660v-3h1v3z M560 660v-3h1v3z M561 660v-8h1v8z M562 660v-6h1v6z M568 660v-5h1v5z M569 660v-4h1v4z M571 660v-8h1v8z M572 660v-9h1v9z M573 660v-4h1v4z M575 660v-15h1v15z M576 660v-5h1v5z M582 660v-10h1v10z M583 660v-4h1v4z M584 660v-3h1v3z M586 660v-9h1v9z M587 660v-10h1v10z M589 660v-25h1v25z M590 660v-6h1v6z M591 660v-6h1v6z M594 660v-6h1v6z M595 660v-4h1v4z M597 660v-15h1v15z M598 660v-7h1v7z M600 660v-8h1v8z M601 660v-6h1v6z M602 660v-3h1v3z M604 660v-18h1v18z M608 660v-3h1v3z M609 660v-4h1v4z M611 660v-3h1v3z M612 660v-2h1v2z M613 660v-2h1v2z M615 660v-4h1v4z M616 660v-5h1v5z M618 660v-8h1v8z M622 660v-2h1v2z M623 660v-4h1v4z M624 660v-2h1v2z M626 660v-3h1v3z M627 660v-3h1v3z M629 660v-41h1v41z M630 660v-8h1v8z M631 660v-6h1v6z M636 660v-67h1v67z M637 660v-49h1v49z M638 660v-73h1v73z M640 660v-4h1v4z M641 660v-1h1v1z M642 660v-4h1v4z M644 660v-6h1v6z M645 660v-2h1v2z M651 660v-4h1v4z M652 660v-4h1v4z M653 660v-2h1v2z M655 660v-2h1v2z M656 660v-4h1v4z M658 660v-2h1v2z M659 660v-5h1v5z M660 660v-5h1v5z M663 660v-4h1v4z M664 660v-4h1v4z M666 660v-2h1v2z M669 660v-3h1v3z M670 660v-8h1v8z M671 660v-3h1v3z M673 660v-2h1v2z M677 660v-3h1v3z M678 660v-5h1v5z M680 660v-5h1v5z M681 660v-2h1v2z M682 660v-5h1v5z M684 660v-7h1v7z M685 660v-1h1v1z M687 660v-4h1v4z M691 660v-6h1v6z M692 660v-3h1v3z M693 660v-4h1v4z M695 660v-3h1v3z M696 660v-1h1v1z M698 660v-5h1v5z M699 660v-3h1v3z M700 660v-12h1v12z M706 660v-6h1v6z M707 660v-5h1v5z M709 660v-12h1v12z M710 660v-4h1v4z M711 660v-3h1v3z M713 660v-7h1v7z M714 660v-7h1v7z M716 660v-14h1v14z M720 660v-8h1v8z M721 660v-4h1v4z M722 660v-12h1v12z M724 660v-6h1v6z M725 660v-6h1v6z M727 660v-12h1v12z M728 660v-14h1v14z M729 660v-6h1v6z M732 660v-4h1v4z M733 660v-5h1v5z M734 660v-17h1v17z M735 660v-3h1v3z M736 660v-5h1v5z M738 660v-4h1v4z M739 660v-6h1v6z M740 660v-3h1v3z M742 660v-5h1v5z M746 660v-12h1v12z M747 660v-4h1v4z M749 660v-12h1v12z M750 660v-23h1v23z M751 660v-2h1v2z M753 660v-5h1v5z M754 660v-27h1v27z M756 660v-2h1v2z M760 660v-10h1v10z M761 660v-8h1v8z M762 660v-7h1v7z M764 660v-5h1v5z M765 660v-6h1v6z M767 660v-3h1v3z M768 660v-6h1v6z M769 660v-6h1v6z M774 660v-26h1v26z M775 660v-5h1v5z M776 660v-4h1v4z M778 660v-7h1v7z M779 660v-3h1v3z M780 660v-6h1v6z M782 660v-8h1v8z M783 660v-4h1v4z M787 660v-3h1v3z M789 660v-4h1v4z M790 660v-5h1v5z M791 660v-16h1v16z M793 660v-6h1v6z M794 660v-7h1v7z M796 660v-16h1v16z M797 660v-3h1v3z M798 660v-3h1v3z M801 660v-8h1v8z M802 660v-7h1v7z M804 660v-3h1v3z M805 660v-10h1v10z M807 660v-11h1v11z M808 660v-10h1v10z M809 660v-6h1v6z M811 660v-10h1v10z M815 660v-16h1v16z M816 660v-6h1v6z M818 660v-11h1v11z M819 660v-12h1v12z M820 660v-8h1v8z M822 660v-8h1v8z M823 660v-3h1v3z M825 660v-8h1v8z M829 660v-29h1v29z M830 660v-9h1v9z M831 660v-2h1v2z M833 660v-8h1v8z M834 660v-6h1v6z M836 660v-6h1v6z M837 660v-5h1v5z M838 660v-5h1v5z M844 660v-23h1v23z M845 660v-5h1v5z M847 660v-8h1v8z M848 660v-5h1v5z M849 660v-6h1v6z M851 660v-10h1v10z M852 660v-11h1v11z M856 660v-6h1v6z M858 660v-3h1v3z M859 660v-7h1v7z M860 660v-7h1v7z M862 660v-6h1v6z M863 660v-2h1v2z M865 660v-3h1v3z M866 660v-16h1v16z M867 660v-7h1v7z M870 660v-9h1v9z M871 660v-11h1v11z M873 660v-7h1v7z M874 660v-10h1v10z M876 660v-8h1v8z M877 660v-2h1v2z M878 660v-8h1v8z M880 660v-5h1v5z M884 660v-16h1v16z M885 660v-3h1v3z M887 660v-15h1v15z M888 660v-11h1v11z M889 660v-5h1v5z M891 660v-4h1v4z M892 660v-4h1v4z M894 660v-16h1v16z M898 660v-44h1v44z M899 660v-4h1v4z M900 660v-7h1v7z M902 660v-10h1v10z M903 660v-27h1v27z M905 660v-4h1v4z M906 660v-5h1v5z M907 660v-10h1v10z M913 660v-9h1v9z M914 660v-13h1v13z M916 660v-29h1v29z M917 660v-10h1v10z M918 660v-13h1v13z M920 660v-19h1v19z M921 660v-8h1v8z M924 660v-54h1v54z M925 660v-10h1v10z M927 660v-18h1v18z M928 660v-18h1v18z M929 660v-7h1v7z M931 660v-20h1v20z M932 660v-7h1v7z M934 660v-7h1v7z M935 660v-21h1v21z M936 660v-10h1v10z M939 660v-12h1v12z M940 660v-12h1v12z M942 660v-14h1v14z M943 660v-11h1v11z M945 660v-9h1v9z M946 660v-19h1v19z M947 660v-10h1v10z M949 660v-8h1v8z M950 660v-26h1v26z M953 660v-12h1v12z M954 660v-23h1v23z M956 660v-10h1v10z M957 660v-10h1v10z M958 660v-10h1v10z M960 660v-10h1v10z M961 660v-7h1v7z M963 660v-29h1v29z M967 660v-8h1v8z M968 660v-6h1v6z M969 660v-20h1v20z M971 660v-9h1v9z M972 660v-9h1v9z M974 660v-14h1v14z M975 660v-3h1v3z M976 660v-6h1v6z M982 660v-7h1v7z M983 660v-29h1v29z M985 660v-11h1v11z M986 660v-7h1v7z M987 660v-10h1v10z M989 660v-16h1v16z M990 660v-32h1v32z M993 660v-46h1v46z M994 660v-27h1v27z M996 660v-17h1v17z M997 660v-14h1v14z M998 660v-8h1v8z M1000 660v-7h1v7z M1001 660v-18h1v18z M1003 660v-26h1v26z M1004 660v-6h1v6z M1005 660v-32h1v32z M1008 660v-18h1v18z M1009 660v-15h1v15z M1011 660v-22h1v22z M1012 660v-8h1v8z M1014 660v-11h1v11z M1015 660v-17h1v17z M1016 660v-14h1v14z M1018 660v-11h1v11z M1021 660v-117h1v117z M1022 660v-28h1v28z M1023 660v-48h1v48z M1025 660v-38h1v38z M1026 660v-8h1v8z M1027 660v-15h1v15z M1028 660v-55h1v55z M1029 660v-19h1v19z M1030 660v-25h1v25z M1032 660v-13h1v13z M1034 660v-29h1v29z M1036 660v-19h1v19z M1037 660v-15h1v15z M1038 660v-24h1v24z M1040 660v-6h1v6z M1041 660v-17h1v17z M1043 660v-9h1v9z M1044 660v-13h1v13z M1045 660v-13h1v13z M1051 660v-21h1v21z M1052 660v-7h1v7z M1054 660v-10h1v10z M1055 660v-18h1v18z M1056 660v-12h1v12z M1058 660v-13h1v13z M1059 660v-20h1v20z M1063 660v-15h1v15z M1065 660v-7h1v7z M1066 660v-14h1v14z M1067 660v-11h1v11z M1069 660v-23h1v23z M1070 660v-9h1v9z M1072 660v-18h1v18z M1073 660v-15h1v15z M1077 660v-31h1v31z M1078 660v-20h1v20z M1080 660v-6h1v6z M1081 660v-17h1v17z M1083 660v-27h1v27z M1084 660v-13h1v13z M1085 660v-18h1v18z M1087 660v-13h1v13z M1091 660v-31h1v31z M1092 660v-13h1v13z M1094 660v-17h1v17z M1095 660v-18h1v18z M1096 660v-13h1v13z M1098 660v-7h1v7z M1099 660v-12h1v12z M1101 660v-10h1v10z M1105 660v-21h1v21z M1106 660v-11h1v11z M1107 660v-10h1v10z M1109 660v-63h1v63z M1110 660v-34h1v34z M1112 660v-7h1v7z M1113 660v-8h1v8z M1114 660v-10h1v10z M1117 660v-50h1v50z M1119 660v-33h1v33z M1120 660v-11h1v11z M1121 660v-27h1v27z" fill="#bcbcbc" shape-rendering="crispEdges"/>
<rect x="86.5" y="501.5" width="1085.0" height="159.0" fill="none" stroke="#000" stroke-width="1.1"/>
<path d="M217.5 660.5 v4.9 M407.5 660.5 v4.9 M596.5 660.5 v4.9 M785.5 660.5 v4.9 M975.5 660.5 v4.9 M1164.5 660.5 v4.9 M86.5 660.5 h-4.9 M86.5 624.5 h-4.9 M86.5 589.5 h-4.9 M86.5 554.5 h-4.9 M86.5 518.5 h-4.9" stroke="#000" stroke-width="1.1" fill="none"/>
<text x="75.7" y="664.9" font-size="12.4" text-anchor="end" fill="#000" textLength="8.1" lengthAdjust="spacingAndGlyphs">0</text>
<text x="75.7" y="628.9" font-size="12.4" text-anchor="end" fill="#000" textLength="40.5" lengthAdjust="spacingAndGlyphs">50000</text>
<text x="75.7" y="593.9" font-size="12.4" text-anchor="end" fill="#000" textLength="48.6" lengthAdjust="spacingAndGlyphs">100000</text>
<text x="75.7" y="558.9" font-size="12.4" text-anchor="end" fill="#000" textLength="48.6" lengthAdjust="spacingAndGlyphs">150000</text>
<text x="75.7" y="522.9" font-size="12.4" text-anchor="end" fill="#000" textLength="48.6" lengthAdjust="spacingAndGlyphs">200000</text>
<text x="217.7" y="679.0" font-size="12.4" text-anchor="middle" fill="#000" textLength="53.4" lengthAdjust="spacingAndGlyphs">2021-01</text>
<text x="407.7" y="679.0" font-size="12.4" text-anchor="middle" fill="#000" textLength="53.4" lengthAdjust="spacingAndGlyphs">2022-01</text>
<text x="596.7" y="679.0" font-size="12.4" text-anchor="middle" fill="#000" textLength="53.4" lengthAdjust="spacingAndGlyphs">2023-01</text>
<text x="785.7" y="679.0" font-size="12.4" text-anchor="middle" fill="#000" textLength="53.4" lengthAdjust="spacingAndGlyphs">2024-01</text>
<text x="975.7" y="679.0" font-size="12.4" text-anchor="middle" fill="#000" textLength="53.4" lengthAdjust="spacingAndGlyphs">2025-01</text>
<text x="1164.7" y="679.0" font-size="12.4" text-anchor="middle" fill="#000" textLength="53.4" lengthAdjust="spacingAndGlyphs">2026-01</text>
<text transform="translate(18.4,582) rotate(-90)" font-size="12.4" text-anchor="middle" textLength="43.5" lengthAdjust="spacingAndGlyphs">Volume</text>
<text x="86.3" y="717.5" font-size="16.67" text-anchor="start" fill="#000" textLength="37.9" lengthAdjust="spacingAndGlyphs" font-family='"Noto Sans CJK SC","Liberation Sans",sans-serif'>QUAL</text>
<text x="130.2" y="717.5" font-size="16.67" text-anchor="start" fill="#000" textLength="65.2" lengthAdjust="spacingAndGlyphs" font-family='"Noto Sans CJK SC","Liberation Sans",sans-serif'>交易次数</text>
<text x="196.6" y="717.5" font-size="16" text-anchor="start" fill="#000">:</text>
<text x="206.9" y="717.5" font-size="16" text-anchor="start" fill="#000" textLength="8.9" lengthAdjust="spacingAndGlyphs">3</text>
<text x="86.3" y="736.8" font-size="16.67" text-anchor="start" fill="#000" textLength="97.9" lengthAdjust="spacingAndGlyphs" font-family='"Noto Sans CJK SC","Liberation Sans",sans-serif'>策略总收益率</text>
<text x="185.7" y="736.8" font-size="16" text-anchor="start" fill="#000">:</text>
<text x="197.6" y="736.8" font-size="16" text-anchor="start" fill="#000" textLength="54.0" lengthAdjust="spacingAndGlyphs">78.65%</text>
<text x="86.3" y="756.2" font-size="16.67" text-anchor="start" fill="#000" textLength="97.9" lengthAdjust="spacingAndGlyphs" font-family='"Noto Sans CJK SC","Liberation Sans",sans-serif'>长期持有收益</text>
<text x="185.7" y="756.2" font-size="16" text-anchor="start" fill="#000">:</text>
<text x="197.2" y="756.2" font-size="16" text-anchor="start" fill="#000" textLength="54.4" lengthAdjust="spacingAndGlyphs">94.12%</text>
<text x="86.3" y="775.8" font-size="16.67" text-anchor="start" fill="#000" textLength="64.1" lengthAdjust="spacingAndGlyphs" font-family='"Noto Sans CJK SC","Liberation Sans",sans-serif'>交易记录</text>
<text x="151.6" y="775.8" font-size="16" text-anchor="start" fill="#000">:</text>
<text x="96.9" y="792.5" font-size="16.67" text-anchor="start" fill="#000" textLength="63.6" lengthAdjust="spacingAndGlyphs" font-family='"Noto Sans CJK SC","Liberation Sans",sans-serif'>Buy Date</text>
<text x="172.6" y="792.5" font-size="16.67" text-anchor="start" fill="#000" textLength="65.2" lengthAdjust="spacingAndGlyphs" font-family='"Noto Sans CJK SC","Liberation Sans",sans-serif'>Buy Price</text>
<text x="249.1" y="792.5" font-size="16.67" text-anchor="start" fill="#000" textLength="65.2" lengthAdjust="spacingAndGlyphs" font-family='"Noto Sans CJK SC","Liberation Sans",sans-serif'>Sell Date</text>
<text x="325.6" y="792.5" font-size="16.67" text-anchor="start" fill="#000" textLength="66.6" lengthAdjust="spacingAndGlyphs" font-family='"Noto Sans CJK SC","Liberation Sans",sans-serif'>Sell Price</text>
<text x="404.1" y="792.5" font-size="16.67" text-anchor="start" fill="#000" textLength="92.8" lengthAdjust="spacingAndGlyphs" font-family='"Noto Sans CJK SC","Liberation Sans",sans-serif'>Holding Days</text>
<text x="508.2" y="792.5" font-size="16.67" text-anchor="start" fill="#000" textLength="53.2" lengthAdjust="spacingAndGlyphs" font-family='"Noto Sans CJK SC","Liberation Sans",sans-serif'>Profit %</text>
<text x="86.7" y="810.5" font-size="16" text-anchor="start" fill="#000" textLength="87.7" lengthAdjust="spacingAndGlyphs">2020-10-27</text>
<text x="205.9" y="810.5" font-size="16" text-anchor="start" fill="#000" textLength="43.8" lengthAdjust="spacingAndGlyphs">98.35</text>
<text x="255.8" y="810.5" font-size="16" text-anchor="start" fill="#000" textLength="88.4" lengthAdjust="spacingAndGlyphs">2021-05-11</text>
<text x="376.0" y="810.5" font-size="16" text-anchor="start" fill="#000" textLength="52.8" lengthAdjust="spacingAndGlyphs">120.07</text>
<text x="485.7" y="810.5" font-size="16" text-anchor="start" fill="#000" textLength="28.5" lengthAdjust="spacingAndGlyphs">196</text>
<text x="540.5" y="810.5" font-size="16" text-anchor="start" fill="#000" textLength="43.4" lengthAdjust="spacingAndGlyphs">22.08</text>
<text x="86.7" y="827.8" font-size="16" text-anchor="start" fill="#000" textLength="87.7" lengthAdjust="spacingAndGlyphs">2021-09-14</text>
<text x="201.4" y="827.8" font-size="16" text-anchor="start" fill="#000" textLength="53.5" lengthAdjust="spacingAndGlyphs">130.90</text>
<text x="261.0" y="827.8" font-size="16" text-anchor="start" fill="#000" textLength="88.8" lengthAdjust="spacingAndGlyphs">2024-04-04</text>
<text x="380.5" y="827.8" font-size="16" text-anchor="start" fill="#000" textLength="53.9" lengthAdjust="spacingAndGlyphs">158.24</text>
<text x="490.6" y="827.8" font-size="16" text-anchor="start" fill="#000" textLength="28.6" lengthAdjust="spacingAndGlyphs">933</text>
<text x="545.7" y="827.8" font-size="16" text-anchor="start" fill="#000" textLength="43.4" lengthAdjust="spacingAndGlyphs">20.89</text>
<text x="86.7" y="844.7" font-size="16" text-anchor="start" fill="#000" textLength="87.7" lengthAdjust="spacingAndGlyphs">2024-04-12</text>
<text x="201.4" y="844.7" font-size="16" text-anchor="start" fill="#000" textLength="53.5" lengthAdjust="spacingAndGlyphs">157.72</text>
<text x="261.0" y="844.7" font-size="16" text-anchor="start" fill="#000" textLength="88.8" lengthAdjust="spacingAndGlyphs">2025-10-10</text>
<text x="380.5" y="844.7" font-size="16" text-anchor="start" fill="#000" textLength="53.9" lengthAdjust="spacingAndGlyphs">190.92</text>
<text x="490.6" y="844.7" font-size="16" text-anchor="start" fill="#000" textLength="28.6" lengthAdjust="spacingAndGlyphs">546</text>
<text x="545.7" y="844.7" font-size="16" text-anchor="start" fill="#000" textLength="43.4" lengthAdjust="spacingAndGlyphs">21.05</text>
</svg>
</body></html>
